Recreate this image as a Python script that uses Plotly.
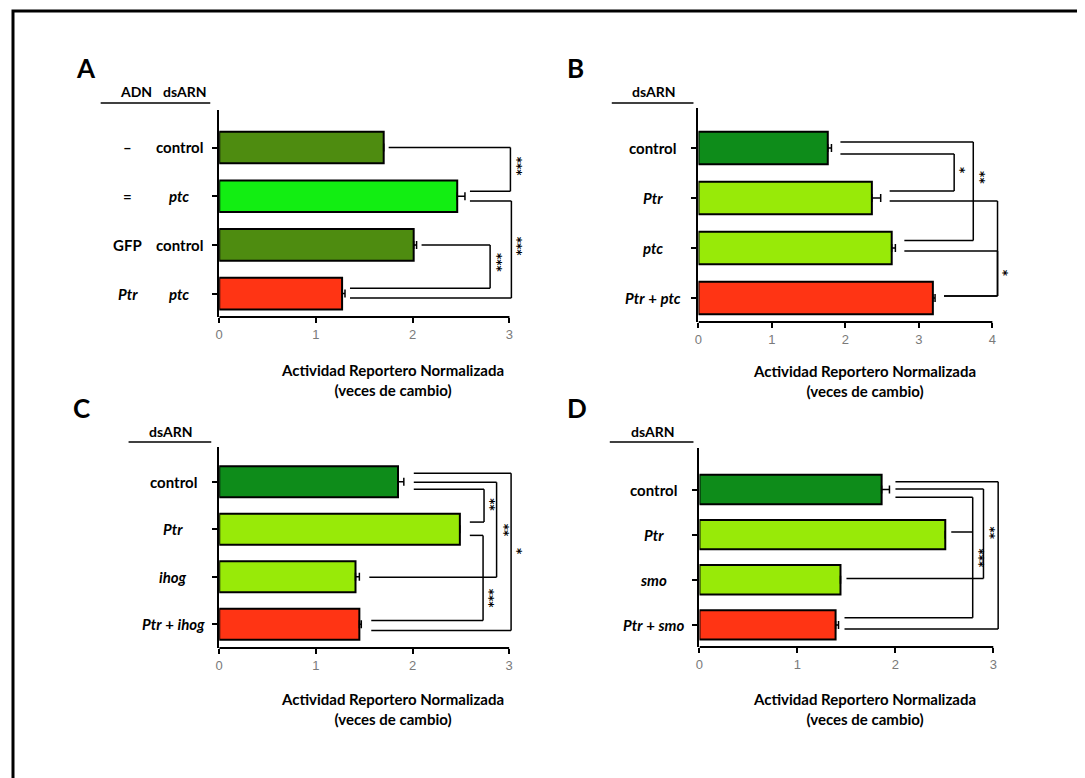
import plotly.graph_objects as go

W, H = 1085, 778
PAGE_MARGIN = 8  # default body margin of the html page

# ---------------- data ----------------
# Panel A: ADN / dsARN combinations
A_adn = ["–", "=", "GFP", "Ptr"]
A_dsarn = ["control", "ptc", "control", "ptc"]
A_values = [1.70, 2.46, 2.01, 1.27]
A_errors = [0.00, 0.08, 0.03, 0.03]
A_ids = [f"{a} {d}" for a, d in zip(A_adn, A_dsarn)]
A_sig_groups = [["– control", "= ptc"], ["= ptc", "Ptr ptc"], ["GFP control", "Ptr ptc"]]
A_sig_labels = ["***", "***", "***"]

# Panel B
B_categories = ["control", "Ptr", "ptc", "Ptr + ptc"]
B_values = [1.76, 2.36, 2.63, 3.19]
B_errors = [0.05, 0.12, 0.05, 0.03]
B_sig_groups = [["control", "ptc"], ["control", "Ptr"], ["Ptr", "Ptr + ptc"], ["ptc", "Ptr + ptc"]]
B_sig_labels = ["**", "*", "**", "*"]

# Panel C
C_categories = ["control", "Ptr", "ihog", "Ptr + ihog"]
C_values = [1.85, 2.49, 1.41, 1.45]
C_errors = [0.06, 0.00, 0.04, 0.02]
C_sig_groups = [["control", "Ptr + ihog"], ["control", "ihog"], ["control", "Ptr"], ["Ptr", "Ptr + ihog"]]
C_sig_labels = ["*", "**", "**", "***"]

# Panel D
D_categories = ["control", "Ptr", "smo", "Ptr + smo"]
D_values = [1.86, 2.51, 1.44, 1.39]
D_errors = [0.08, 0.00, 0.00, 0.03]
D_sig_groups = [["control", "Ptr + smo"], ["control", "smo"], ["control", "Ptr", "Ptr + smo"]]
D_sig_labels = ["**", "**", "***"]

x_title = "Actividad Reportero Normalizada<br>(veces de cambio)"

# ---------------- styles ----------------
OLIVE = "#4e8c10"
BRIGHT = "#12ee12"
DARK = "#0e8c1a"
LIME = "#98ea08"
RED = "#ff3414"

FONT = "Lato, Roboto, sans-serif"
TICKFONT = dict(family="Liberation Sans, Arial, sans-serif", size=13, color="#7a7a7a")

# bracket geometry (x in data units, offsets in category units, label pos)
A_geom = [dict(x=3.01, off=[0.0, -0.10], lab=(3.08, 0.40)),
          dict(x=3.02, off=[0.10, 0.09], lab=(3.08, 2.04)),
          dict(x=2.80, off=[0.0, -0.11], lab=(2.87, 2.37))]
B_geom = [dict(x=3.74, off=[-0.12, -0.15], lab=(3.83, 0.60)),
          dict(x=3.48, off=[0.12, -0.14], lab=(3.56, 0.44)),
          dict(x=4.07, off=[0.06, -0.04], lab=(4.16, 1.58)),
          dict(x=4.07, off=[0.06, -0.04], lab=(4.14, 2.51))]
C_geom = [dict(x=3.02, off=[-0.18, 0.13], lab=(3.08, 1.48)),
          dict(x=2.87, off=[0.01, 0.01], lab=(2.95, 1.02)),
          dict(x=2.74, off=[0.16, -0.15], lab=(2.80, 0.49)),
          dict(x=2.73, off=[0.13, -0.08], lab=(2.80, 2.46))]
D_geom = [dict(x=3.05, off=[-0.17, 0.09], lab=(3.13, 1.45)),
          dict(x=2.90, off=[-0.01, -0.03], lab=(2.97, 0.96)),
          dict(x=2.79, off=[0.17, -0.06, -0.16], lab=(2.85, 1.52))]

PANELS = [
    dict(name="A", cats=A_ids, vals=A_values, errs=A_errors, colors=[OLIVE, BRIGHT, OLIVE, RED],
         groups=A_sig_groups, labels=A_sig_labels, geom=A_geom,
         x0=216, scale=97.1, nt=3, xmax=3.12, ytop=110, ybot=317, yr=[3.48, -0.77], gap=5,
         letter=(82, 68), header_y=92, rule=(97, 207, 103), title=(390, 380)),
    dict(name="B", cats=B_categories, vals=B_values, errs=B_errors, colors=[DARK, LIME, LIME, RED],
         groups=B_sig_groups, labels=B_sig_labels, geom=B_geom,
         x0=697, scale=73.75, nt=4, xmax=4.15, ytop=108, ybot=322, yr=[3.48, -0.80], gap=9,
         letter=(574, 68), header_y=92, rule=(610, 692, 103), title=(864, 381), lab_cx=651),
    dict(name="C", cats=C_categories, vals=C_values, errs=C_errors, colors=[DARK, LIME, LIME, RED],
         groups=C_sig_groups, labels=C_sig_labels, geom=C_geom,
         x0=216, scale=97.0, nt=3, xmax=3.12, ytop=447, ybot=648, yr=[3.50, -0.73], gap=10,
         letter=(78, 408), header_y=431, rule=(125, 208, 442), title=(390, 709), lab_cx=170),
    dict(name="D", cats=D_categories, vals=D_values, errs=D_errors, colors=[DARK, LIME, LIME, RED],
         groups=D_sig_groups, labels=D_sig_labels, geom=D_geom,
         x0=698, scale=98.3, nt=3, xmax=3.12, ytop=448, ybot=647, yr=[3.49, -0.92], gap=6,
         letter=(575, 408), header_y=432, rule=(608, 692, 442), title=(864, 709), lab_cx=652),
]


def fmt(label):
    plain = {"control", "+", "–", "=", "GFP"}
    return " ".join(t if t in plain else f"<i>{t}</i>" for t in label.split(" "))


def px(x):
    return (x - PAGE_MARGIN) / W


def py(y):
    return 1 - (y - PAGE_MARGIN) / H


def note(**kw):
    kw.setdefault("showarrow", False)
    kw.setdefault("xanchor", "center")
    kw.setdefault("yanchor", "middle")
    return kw


fig = go.Figure()
shapes = []
annotations = []

for i, p in enumerate(PANELS, start=1):
    sfx = "" if i == 1 else str(i)
    xa, ya = "x" + sfx, "y" + sfx
    fig.add_trace(go.Bar(
        x=p["vals"], y=p["cats"], orientation="h", width=0.65,
        marker=dict(color=p["colors"], line=dict(color="black", width=2)),
        error_x=dict(type="data", symmetric=False, array=p["errs"], arrayminus=[0] * len(p["errs"]),
                     color="black", thickness=1.5, width=4),
        xaxis=xa, yaxis=ya, showlegend=False, hoverinfo="skip"))

    xd = [px(p["x0"]), px(p["x0"] + p["xmax"] * p["scale"])]
    yd = [py(p["ybot"]), py(p["ytop"])]
    fig.layout["xaxis" + sfx] = dict(
        domain=xd, range=[0, p["xmax"]], anchor=ya, tickvals=list(range(p["nt"] + 1)),
        ticks="outside", ticklen=5, tickwidth=2, tickcolor="black", showline=False,
        showgrid=False, zeroline=False, tickfont=TICKFONT, fixedrange=True)
    fig.layout["yaxis" + sfx] = dict(
        domain=yd, range=p["yr"], anchor=xa, type="category", categoryorder="array",
        categoryarray=p["cats"], showticklabels=False, ticks="outside", ticklen=5,
        tickwidth=2, tickcolor="black", showline=True, linewidth=2, linecolor="black",
        showgrid=False, zeroline=False, fixedrange=True)

    # x axis line from 0 to last tick
    shapes.append(dict(type="line", xref=xa, yref=ya + " domain", x0=0, x1=p["nt"], y0=0, y1=0,
                       line=dict(color="black", width=2)))

    # significance brackets
    idx = {c: k for k, c in enumerate(p["cats"])}
    ends = {c: v + e for c, v, e in zip(p["cats"], p["vals"], p["errs"])}
    gap = p["gap"] / p["scale"]
    for grp, lab, g in zip(p["groups"], p["labels"], p["geom"]):
        ys = []
        for c, o in zip(grp, g["off"]):
            yy = idx[c] + o
            ys.append(yy)
            shapes.append(dict(type="line", xref=xa, yref=ya, x0=ends[c] + gap, x1=g["x"], y0=yy, y1=yy,
                               line=dict(color="black", width=1.5)))
        shapes.append(dict(type="line", xref=xa, yref=ya, x0=g["x"], x1=g["x"], y0=min(ys), y1=max(ys),
                           line=dict(color="black", width=1.5)))
        annotations.append(note(xref=xa, yref=ya, x=g["lab"][0], y=g["lab"][1], text=lab, textangle=90,
                                font=dict(family="DejaVu Sans, sans-serif", size=12, color="black",
                                          weight="bold")))

    lab_font = dict(family=FONT, size=15, color="black", weight="bold")
    head_font = dict(family=FONT, size=14, color="black", weight="bold")
    # category labels
    if p["name"] == "A":
        for k, (a, d) in enumerate(zip(A_adn, A_dsarn)):
            annotations.append(note(xref="paper", yref=ya, x=px(124), y=k, text=fmt(a), font=lab_font))
            annotations.append(note(xref="paper", yref=ya, x=px(176), y=k, text=fmt(d), font=lab_font))
        annotations.append(note(xref="paper", yref="paper", x=px(132), y=py(p["header_y"]), text="ADN",
                                font=head_font))
        annotations.append(note(xref="paper", yref="paper", x=px(182), y=py(p["header_y"]), text="dsARN",
                                font=head_font))
    else:
        for k, c in enumerate(p["cats"]):
            annotations.append(note(xref="paper", yref=ya, x=px(p["lab_cx"]), y=k, text=fmt(c), font=lab_font))
        hx = (p["rule"][0] + p["rule"][1]) / 2 + 1
        annotations.append(note(xref="paper", yref="paper", x=px(hx), y=py(p["header_y"]), text="dsARN",
                                font=head_font))

    # header rule
    r = p["rule"]
    shapes.append(dict(type="line", xref="paper", yref="paper", x0=px(r[0]), x1=px(r[1]), y0=py(r[2]), y1=py(r[2]),
                       line=dict(color="black", width=1.5)))

    # panel letter
    annotations.append(note(xref="paper", yref="paper", x=px(p["letter"][0]), y=py(p["letter"][1]), text=p["name"],
                            font=dict(family=FONT, size=26, color="black", weight="bold")))
    # x-axis title
    annotations.append(note(xref="paper", yref="paper", x=px(p["title"][0]), y=py(p["title"][1]), text=x_title,
                            font=dict(family=FONT, size=15, color="black", weight="bold")))

# outer frame (top and left edges visible)
shapes.append(dict(type="rect", xref="paper", yref="paper", x0=px(9), x1=1.05, y0=-0.05, y1=py(11),
                   line=dict(color="black", width=3), fillcolor="rgba(0,0,0,0)"))

fig.update_layout(
    width=W, height=H, margin=dict(l=0, r=0, t=0, b=0),
    paper_bgcolor="white", plot_bgcolor="white",
    shapes=shapes, annotations=annotations,
)

fig.write_html("out.html")
